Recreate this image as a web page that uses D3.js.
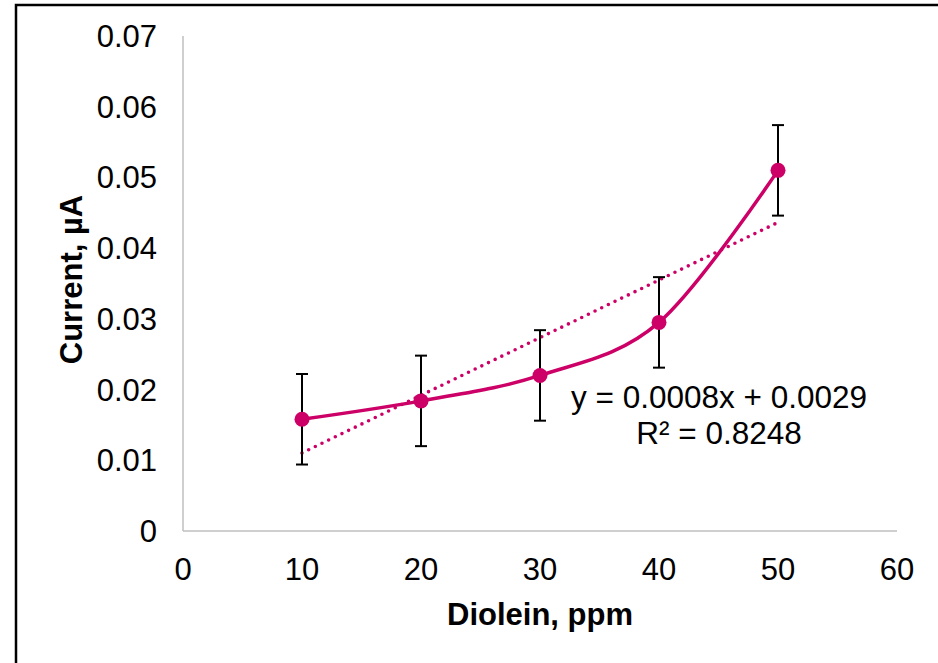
<!DOCTYPE html>
<html>
<head>
<meta charset="utf-8">
<script src="https://cdn.jsdelivr.net/npm/d3@7"></script>
<style>
  html, body { margin: 0; padding: 0; background: #fff; }
  svg { display: block; }
</style>
</head>
<body>
<svg id="chart" width="938" height="663"></svg>
<script>
// ---- data ----
const concentrations = [10, 20, 30, 40, 50];            // Diolein, ppm
const currents = [0.0158, 0.0184, 0.0220, 0.0295, 0.0510]; // Current, µA
const errors = [0.0064, 0.0064, 0.0064, 0.0064, 0.0064];
const xTicks = [0, 10, 20, 30, 40, 50, 60];
const yTicks = [0, 0.01, 0.02, 0.03, 0.04, 0.05, 0.06, 0.07];
const equationText = "y = 0.0008x + 0.0029";
const r2Text = "R² = 0.8248";
const xTitle = "Diolein, ppm";
const yTitle = "Current, µA";

const color = "#CC0066";
const font = "'Liberation Sans', Arial, sans-serif";

const svg = d3.select("#chart");

// outer border
svg.append("rect")
  .attr("x", 16).attr("y", 5)
  .attr("width", 940).attr("height", 700)
  .attr("fill", "none").attr("stroke", "#000").attr("stroke-width", 2.5);

const plotLeft = 183, plotRight = 897, plotTop = 36, plotBottom = 531;
const x = d3.scaleLinear().domain([0, 60]).range([plotLeft, plotRight]);
const y = d3.scaleLinear().domain([0, 0.07]).range([plotBottom, plotTop]);

// axes lines
svg.append("line").attr("x1", plotLeft).attr("x2", plotLeft).attr("y1", plotTop).attr("y2", plotBottom)
  .attr("stroke", "#BFBFBF").attr("stroke-width", 1.5);
svg.append("line").attr("x1", plotLeft).attr("x2", plotRight).attr("y1", plotBottom).attr("y2", plotBottom)
  .attr("stroke", "#BFBFBF").attr("stroke-width", 1.5);

// y tick labels
svg.append("g").selectAll("text").data(yTicks).join("text")
  .attr("x", 157).attr("y", d => y(d) + 11)
  .attr("text-anchor", "end")
  .attr("font-family", font).attr("font-size", 31).attr("fill", "#000")
  .text(d => d === 0 ? "0" : d3.format(".2f")(d));

// x tick labels
svg.append("g").selectAll("text").data(xTicks).join("text")
  .attr("x", d => x(d)).attr("y", 580)
  .attr("text-anchor", "middle")
  .attr("font-family", font).attr("font-size", 31).attr("fill", "#000")
  .text(d => d);

// axis titles
svg.append("text")
  .attr("x", (plotLeft + plotRight) / 2).attr("y", 625)
  .attr("text-anchor", "middle")
  .attr("font-family", font).attr("font-size", 31).attr("font-weight", "bold")
  .text(xTitle);
svg.append("text")
  .attr("transform", `translate(82,${(plotTop + plotBottom) / 2 - 4}) rotate(-90)`)
  .attr("text-anchor", "middle")
  .attr("font-family", font).attr("font-size", 31).attr("font-weight", "bold")
  .text(yTitle);

const pts = concentrations.map((c, i) => ({ c, v: currents[i], e: errors[i] }));

// linear trendline (least squares from the data)
const mx = d3.mean(concentrations), my = d3.mean(currents);
const slope = d3.sum(pts, p => (p.c - mx) * (p.v - my)) / d3.sum(pts, p => (p.c - mx) ** 2);
const intercept = my - slope * mx;
const xMin = d3.min(concentrations), xMax = d3.max(concentrations);
svg.append("line")
  .attr("x1", x(xMin)).attr("y1", y(slope * xMin + intercept))
  .attr("x2", x(xMax)).attr("y2", y(slope * xMax + intercept))
  .attr("stroke", color).attr("stroke-width", 3.6)
  .attr("stroke-linecap", "round")
  .attr("stroke-dasharray", "0 7.4");

// smoothed line
const line = d3.line().x(p => x(p.c)).y(p => y(p.v)).curve(d3.curveCatmullRom.alpha(0));
svg.append("path").datum(pts)
  .attr("d", line).attr("fill", "none")
  .attr("stroke", color).attr("stroke-width", 3.5);

// error bars
const eb = svg.append("g").attr("stroke", "#000").attr("stroke-width", 2);
pts.forEach(p => {
  eb.append("line").attr("x1", x(p.c)).attr("x2", x(p.c))
    .attr("y1", y(p.v + p.e)).attr("y2", y(p.v - p.e));
  [p.v + p.e, p.v - p.e].forEach(v => {
    eb.append("line").attr("x1", x(p.c) - 6).attr("x2", x(p.c) + 6)
      .attr("y1", y(v)).attr("y2", y(v));
  });
});

// markers
svg.append("g").selectAll("circle").data(pts).join("circle")
  .attr("cx", p => x(p.c)).attr("cy", p => y(p.v)).attr("r", 7.5)
  .attr("fill", color);

// equation
const eq = svg.append("text")
  .attr("font-family", font).attr("font-size", 31.5).attr("text-anchor", "middle").attr("fill", "#000");
eq.append("tspan").attr("x", 719).attr("y", 408).text(equationText);
eq.append("tspan").attr("x", 719).attr("y", 444).text(r2Text);
</script>
</body>
</html>
